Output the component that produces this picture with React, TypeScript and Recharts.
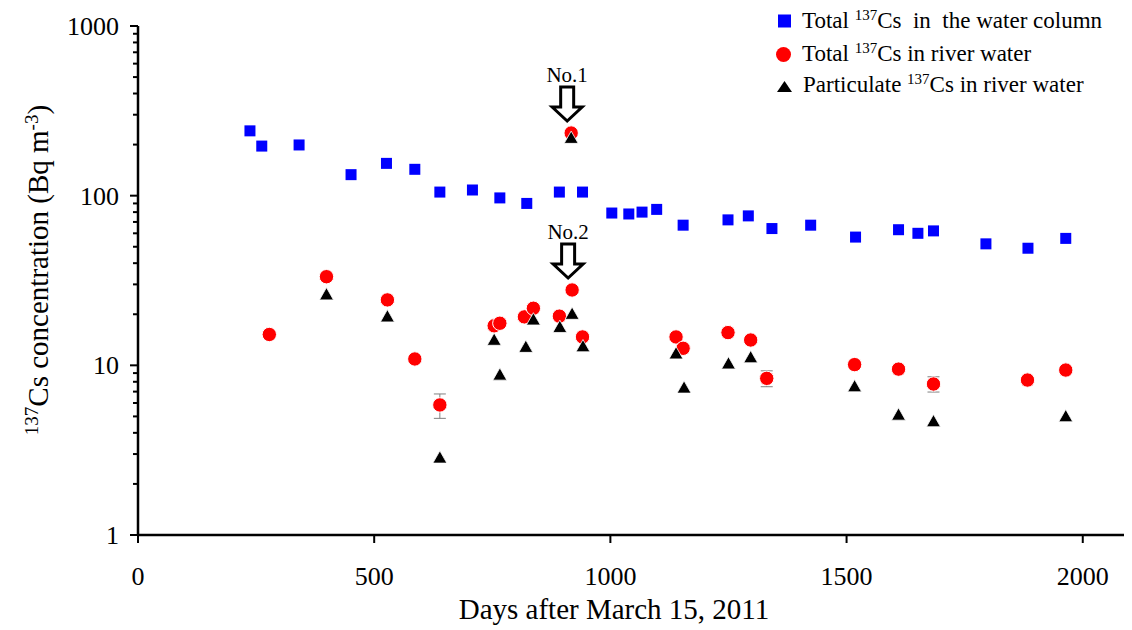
import React from 'react';
import { ScatterChart, Scatter, XAxis, YAxis, ErrorBar, ReferenceDot, Customized } from 'recharts';

const FONT = '"Liberation Serif", "Times New Roman", serif';

// Total 137Cs in the water column
const waterColumnDays = [237, 262, 341, 451, 526, 586, 639, 708, 766, 823, 892, 941, 1003, 1039, 1067, 1098, 1154, 1249, 1292, 1342, 1424, 1519, 1610, 1651, 1684, 1795, 1884, 1964];
const waterColumnValues = [241, 196, 199, 133, 155, 143, 105, 108, 97, 90, 105, 105, 79, 78, 80, 83, 67, 72, 76, 64, 67, 57, 63, 60, 62, 52, 49, 56];

// Total 137Cs in river water
const riverTotalDays = [278, 399, 528, 586, 639, 754, 766, 818, 837, 892, 917, 919, 941, 1139, 1154, 1249, 1297, 1331, 1517, 1610, 1684, 1883, 1964];
const riverTotalValues = [15.2, 33.3, 24.3, 10.9, 5.84, 17.1, 17.7, 19.3, 21.7, 19.5, 234, 27.8, 14.7, 14.7, 12.6, 15.6, 14.1, 8.38, 10.1, 9.5, 7.76, 8.19, 9.38];
const riverTotalErrLow = [0, 0, 0, 0, 0.97, 0, 0, 0, 0, 0, 0, 0, 0, 0, 0, 0, 0, 0.9, 0, 0, 0.8, 0, 0];
const riverTotalErrHigh = [0, 0, 0, 0, 0.94, 0, 0, 0, 0, 0, 0, 0, 0, 0, 0, 0, 0, 0.9, 0, 0, 0.8, 0, 0];

// Particulate 137Cs in river water
const particulateDays = [399, 528, 639, 754, 766, 821, 837, 893, 917, 919, 942, 1139, 1156, 1250, 1297, 1517, 1610, 1684, 1964];
const particulateValues = [26.3, 19.5, 2.87, 14.2, 8.85, 12.9, 18.7, 16.9, 220, 20.2, 13.0, 11.8, 7.42, 10.3, 11.2, 7.55, 5.14, 4.7, 5.03];

// Annotations
const annotationLabels = ['No.1', 'No.2'];
const annotationDays = [917, 919];
const annotationValues = [234, 27.8];

const xTicks = [0, 500, 1000, 1500, 2000];
const yMajorTicks = [1, 10, 100, 1000];
const yMinorMultipliers = [2, 3, 4, 5, 6, 7, 8, 9];
const yTicks: number[] = [];
[1, 10, 100].forEach((d) => {
  yTicks.push(d);
  yMinorMultipliers.forEach((m) => yTicks.push(d * m));
});
yTicks.push(1000);

const waterColumnData = waterColumnDays.map((d, i) => ({ x: d, y: waterColumnValues[i] }));
const riverTotalData = riverTotalDays.map((d, i) => ({ x: d, y: riverTotalValues[i], err: [riverTotalErrLow[i], riverTotalErrHigh[i]] }));
const particulateData = particulateDays.map((d, i) => ({ x: d, y: particulateValues[i] }));

const SquareShape = (props: any) => {
  const { cx, cy } = props;
  if (cx == null || cy == null) return null;
  return <rect x={cx - 5.5} y={cy - 5.5} width={11} height={11} fill="#0000FF" />;
};
const CircleShape = (props: any) => {
  const { cx, cy } = props;
  if (cx == null || cy == null) return null;
  return <circle cx={cx} cy={cy} r={7.2} fill="#FF0000" stroke="#FFFFFF" strokeWidth={1} />;
};
const TriangleShape = (props: any) => {
  const { cx, cy } = props;
  if (cx == null || cy == null) return null;
  return (
    <polygon
      points={`${cx},${cy - 6.5} ${cx + 7},${cy + 5.8} ${cx - 7},${cy + 5.8}`}
      fill="#000000"
      stroke="#FFFFFF"
      strokeWidth={0.8}
    />
  );
};

const YTick = (props: any) => {
  const { x, y, payload } = props;
  const v = payload.value;
  const major = yMajorTicks.includes(v);
  return (
    <g>
      <line x1={x} x2={x - (major ? 8 : 5)} y1={y} y2={y} stroke="#000" strokeWidth={2} />
      {major && (
        <text x={x - 19} y={y} dy="0.35em" textAnchor="end" fontSize={26} fontFamily={FONT} fill="#000">
          {v}
        </text>
      )}
    </g>
  );
};

const XTick = (props: any) => {
  const { x, y, payload } = props;
  return (
    <g>
      <line x1={x} x2={x} y1={y} y2={y + 8} stroke="#000" strokeWidth={2} />
      <text x={x} y={y + 50} textAnchor="middle" fontSize={26} fontFamily={FONT} fill="#000">
        {payload.value}
      </text>
    </g>
  );
};

const makeArrowShape = (label: string) => (props: any) => {
  const { cx, cy } = props;
  if (cx == null || cy == null) return null;
  const ax = cx - 4;
  const tip = cy - 12;
  const headBase = cy - 26;
  const shaftTop = cy - 46;
  const sw = 6.5;
  const hw = 15;
  const pts = [
    [ax - sw, shaftTop],
    [ax + sw, shaftTop],
    [ax + sw, headBase],
    [ax + hw, headBase],
    [ax, tip],
    [ax - hw, headBase],
    [ax - sw, headBase],
  ]
    .map((p) => p.join(','))
    .join(' ');
  return (
    <g>
      <polygon points={pts} fill="#FFFFFF" stroke="#000" strokeWidth={3} strokeLinejoin="miter" />
      <text x={ax} y={cy - 51} textAnchor="middle" fontSize={21} fontFamily={FONT} fill="#000">
        {label}
      </text>
    </g>
  );
};

const LegendAndLabels = () => {
  const supStyle = { fontSize: 15 };
  return (
    <g fontFamily={FONT} fill="#000">
      {/* legend */}
      <rect x={770} y={6.5} width={13} height={13} fill="#0000FF" />
      <text x={794} y={20} fontSize={23} style={{ whiteSpace: 'pre' }}>
        <tspan>Total </tspan>
        <tspan style={supStyle} dy={-8}>137</tspan>
        <tspan dy={8}>Cs  in  the water column</tspan>
      </text>
      <circle cx={775.5} cy={46.5} r={7.5} fill="#FF0000" />
      <text x={794} y={53} fontSize={23} style={{ whiteSpace: 'pre' }}>
        <tspan>Total </tspan>
        <tspan style={supStyle} dy={-8}>137</tspan>
        <tspan dy={8}>Cs in river water</tspan>
      </text>
      <polygon points="776.5,73 784,84 769,84" fill="#000" />
      <text x={795} y={84} fontSize={23} style={{ whiteSpace: 'pre' }}>
        <tspan>Particulate </tspan>
        <tspan style={supStyle} dy={-8}>137</tspan>
        <tspan dy={8}>Cs in river water</tspan>
      </text>
      {/* y axis label */}
      <text transform="translate(40, 262) rotate(-90)" textAnchor="middle" fontSize={29}>
        <tspan fontSize={19} dy={-10}>137</tspan>
        <tspan dy={10}>Cs concentration (Bq m</tspan>
        <tspan fontSize={19} dy={-10}>-3</tspan>
        <tspan dy={10}>)</tspan>
      </text>
      {/* x axis label */}
      <text x={606} y={611} textAnchor="middle" fontSize={29}>
        Days after March 15, 2011
      </text>
    </g>
  );
};

export default function App() {
  return (
    <div style={{ width: 1124, height: 622 }}>
      <ScatterChart width={1124} height={622} margin={{ top: 18, right: 2, left: 0, bottom: 0 }}>
        <XAxis
          type="number"
          dataKey="x"
          domain={[0, 2100]}
          ticks={xTicks}
          interval={0}
          height={95}
          tickSize={0}
          tickMargin={0}
          tickLine={false}
          tick={<XTick />}
          axisLine={{ stroke: '#000', strokeWidth: 2.5 }}
          allowDataOverflow
        />
        <YAxis
          type="number"
          dataKey="y"
          scale="log"
          domain={[1, 1000]}
          ticks={yTicks}
          interval={0}
          width={130}
          tickSize={0}
          tickMargin={0}
          tickLine={false}
          tick={<YTick />}
          axisLine={{ stroke: '#000', strokeWidth: 2.5 }}
          allowDataOverflow
        />
        <Scatter name="water column" data={waterColumnData} shape={SquareShape} isAnimationActive={false} />
        <Scatter name="river total" data={riverTotalData} shape={CircleShape} isAnimationActive={false}>
          <ErrorBar dataKey="err" direction="y" width={6} stroke="#808080" strokeWidth={1} />
        </Scatter>
        <Scatter name="particulate" data={particulateData} shape={TriangleShape} isAnimationActive={false} />
        {annotationLabels.map((lab, i) => (
          <ReferenceDot
            key={lab}
            x={annotationDays[i]}
            y={annotationValues[i]}
            r={0}
            ifOverflow="visible"
            shape={makeArrowShape(lab)}
          />
        ))}
        <Customized component={LegendAndLabels} />
      </ScatterChart>
    </div>
  );
}
